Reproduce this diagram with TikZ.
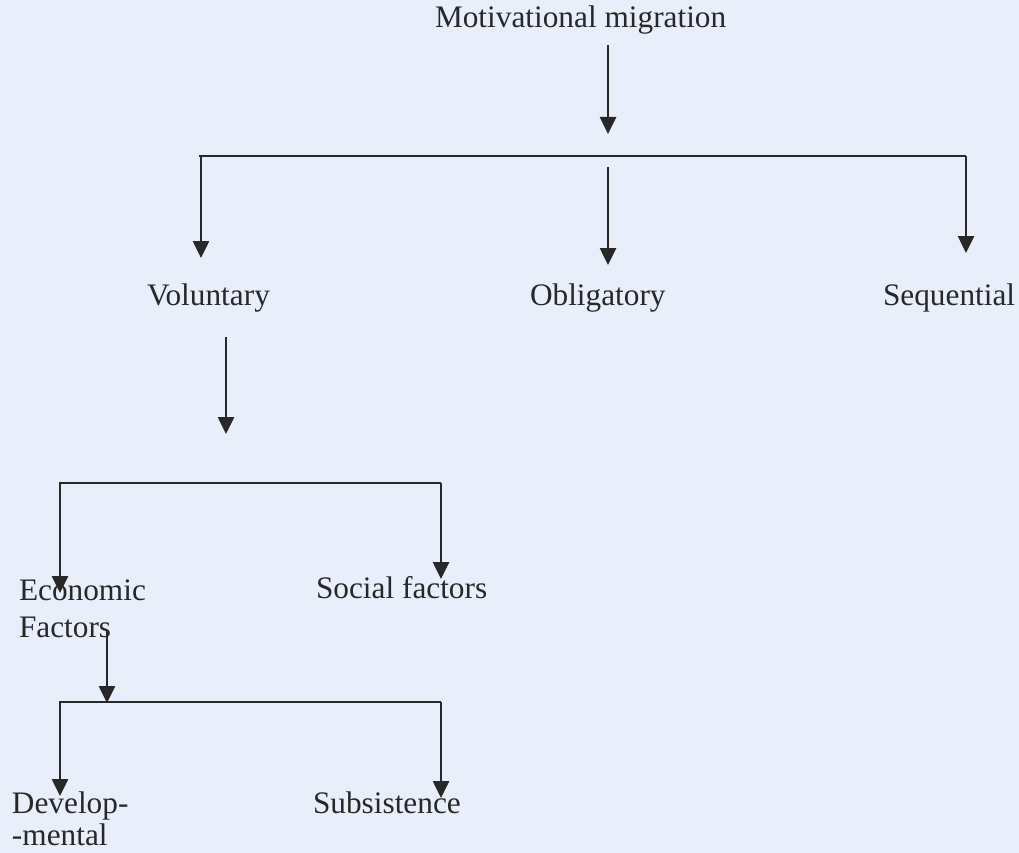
\documentclass[tikz,border=0pt]{standalone}
\usepackage{fontspec}
\setmainfont{Liberation Serif}
\usetikzlibrary{arrows.meta}
\definecolor{bg}{RGB}{233,239,250}
\definecolor{ink}{RGB}{40,40,40}
\tikzset{
  lbl/.style={anchor=base west, inner sep=0pt, outer sep=0pt, text=ink, font=\fontsize{31.3}{37}\selectfont, align=left},
  wire/.style={draw=ink, line width=2.6pt},
  arr/.style={wire, -{Triangle[length=17pt,width=16pt]}}
}
\begin{document}
\begin{tikzpicture}[x=1pt,y=-1pt]
\fill[bg] (0,0) rectangle (1019,853);
\useasboundingbox (0,0) rectangle (1019,853);
% labels (multi-line nodes are placed by the baseline of their last line)
\node[lbl] (mm)  at (435,28)  {Motivational migration};
\node[lbl] (vol) at (147,305) {Voluntary};
\node[lbl] (obl) at (530,305) {Obligatory};
\node[lbl] (seq) at (883,305) {Sequential};
\node[lbl] (eco) at (19,637)  {Economic\\Factors};
\node[lbl] (soc) at (316,598) {Social factors};
\node[lbl] (dev) at (12,845)  {Develop-\\[-5pt]-mental};
\node[lbl] (sub) at (313,813) {Subsistence};
% junction coordinates
\coordinate (t0) at (608,45);
\coordinate (h0) at (608,134);
\coordinate (b1l) at (201,156);
\coordinate (b1r) at (966,156);
\coordinate (m1) at (608,167);
\coordinate (e1l) at (201,258);
\coordinate (e1m) at (608,265);
\coordinate (e1r) at (966,253);
\coordinate (t1) at (226,337);
\coordinate (h1) at (226,434);
\coordinate (b2l) at (60,483);
\coordinate (b2r) at (441,483);
\coordinate (e2l) at (60,593);
\coordinate (e2r) at (441,579);
\coordinate (t2) at (107,630);
\coordinate (h2) at (107,703);
\coordinate (b3l) at (60,702);
\coordinate (b3r) at (441,702);
\coordinate (e3l) at (60,796);
\coordinate (e3r) at (441,798);
% connectors
\draw[arr] (t0) -- (h0);
\draw[wire] (199,156) -- (b1r);
\draw[arr] (b1l) -- (e1l);
\draw[arr] (b1r) -- (e1r);
\draw[arr] (m1) -- (e1m);
\draw[arr] (t1) -- (h1);
\draw[wire] (59,483) -- (b2r);
\draw[arr] (b2l) -- (e2l);
\draw[arr] (b2r) -- (e2r);
\draw[arr] (t2) -- (h2);
\draw[wire] (59,702) -- (b3r);
\draw[arr] (b3l) -- (e3l);
\draw[arr] (b3r) -- (e3r);
\end{tikzpicture}
\end{document}
